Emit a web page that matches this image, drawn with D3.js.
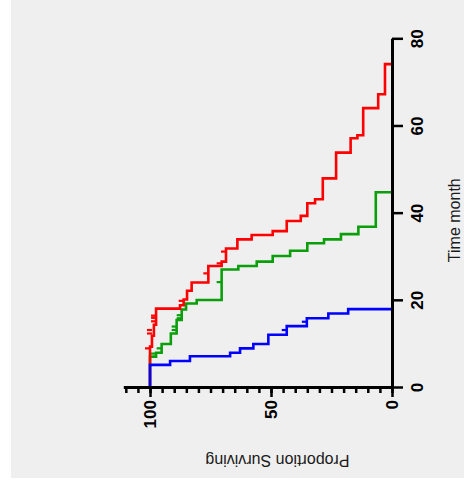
<!DOCTYPE html>
<html>

<head>
    <title>Survival curves</title>
    <script src="https://d3js.org/d3.v7.min.js"></script>
    <style>
        body {
            margin: 0;
            background: #fff;
        }

        .axis path,
        .axis line {
            stroke: #000;
        }

        .axis path {
            stroke-width: 3px;
        }

        .axis line {
            stroke-width: 2.5px;
        }

        .axis text {
            font: bold 17px "Liberation Sans", Arial, sans-serif;
            fill: #000;
        }

        .curve {
            fill: none;
            stroke-width: 2.6px;
        }

        .title {
            font: 16px "Liberation Sans", Arial, sans-serif;
            fill: #1a1a1a;
        }
    </style>
</head>

<body>
    <script>
        // tick labels
        var timeTicks = [0, 20, 40, 60, 80];
        var propTicks = [0, 50, 100];
        var propMinor = [0, 5, 10, 15, 20, 25, 30, 35, 40, 45, 50, 55, 60, 65, 70, 75, 80, 85, 90, 95, 100, 105, 110];

        // red group (time in months, percent surviving)
        var redTimes = [0, 9.5, 12.0, 14.5, 18.2, 19.0, 20.3, 22.3, 24.2, 28.0, 29.0, 32.0, 34.1, 35.1, 36.0, 38.3, 39.5, 42.4, 43.3, 48.1, 54.0, 57.3, 58.0, 64.2, 67.4, 74.3];
        var redPct = [100, 99.2, 98.4, 97.5, 87.6, 86.1, 84.7, 82.8, 75.9, 70.4, 68.6, 63.9, 58.0, 49.3, 43.5, 37.7, 35.0, 31.8, 28.6, 23.1, 17.1, 14.3, 11.9, 5.7, 2.9, 0];
        var redCensorT = [9.1, 12.5, 13.3, 15.3, 16.1, 16.6, 20.0, 26.3, 28.6, 31.3];
        var redCensorP = [100, 99.2, 99.2, 97.5, 97.5, 97.5, 86.1, 75.9, 70.4, 68.6];

        // green group
        var greenTimes = [0, 7.2, 8.1, 10.1, 12.5, 15.6, 18.0, 19.4, 20.2, 27.2, 28.0, 29.0, 30.3, 31.5, 33.2, 34.1, 35.3, 37.0, 44.9];
        var greenPct = [100, 97.5, 95.2, 91.4, 89.0, 86.9, 85.1, 80.7, 70.4, 63.5, 55.9, 49.3, 42.1, 35.0, 28.1, 21.1, 13.9, 6.7, 0];
        var greenCensorT = [7.9, 9.1, 13.3, 14.1, 16.0, 16.7, 24.3];
        var greenCensorP = [97.5, 95.2, 89.0, 89.0, 86.9, 86.9, 70.4];

        // blue group
        var blueTimes = [0, 5.3, 6.2, 7.3, 8.1, 9.1, 10.1, 12.2, 14.2, 16.0, 17.1, 18.1];
        var bluePct = [100, 91.7, 83.5, 66.9, 62.8, 57.3, 51.1, 43.5, 35.2, 26.3, 18.1, 0];
        var blueCensorT = [13.3, 15.2];
        var blueCensorP = [43.5, 35.2];

        // drawing order: green under red under blue
        var series = [
            { color: "#0a9f0a", t: greenTimes, p: greenPct, ct: greenCensorT, cp: greenCensorP },
            { color: "#ff0000", t: redTimes, p: redPct, ct: redCensorT, cp: redCensorP },
            { color: "#0000ff", t: blueTimes, p: bluePct, ct: blueCensorT, cp: blueCensorP }
        ];

        var W = 464, Hpage = 485;
        var width = 348.7,   // time axis length
            height = 268.6;  // proportion axis length

        var svg = d3.select("body").append("svg")
            .attr("width", W)
            .attr("height", Hpage);

        svg.append("rect")
            .attr("x", 11).attr("y", 0)
            .attr("width", W - 11).attr("height", 478)
            .attr("fill", "#efefef");

        // the whole plot is drawn as a normal chart, then turned a quarter turn
        var g = svg.append("g")
            .attr("transform", "translate(123.4,388) rotate(-90)");

        var x = d3.scaleLinear().domain([0, 80]).range([0, width]);
        var y = d3.scaleLinear().domain([0, 111]).range([height, 0]);

        var line = d3.line()
            .x(d => x(d[0]))
            .y(d => y(d[1]))
            .curve(d3.curveStepAfter);

        series.forEach(function (s) {
            var pts = s.t.map((t, i) => [t, s.p[i]]);
            g.append("path")
                .attr("class", "curve")
                .attr("stroke", s.color)
                .attr("d", line(pts));

            g.selectAll(null)
                .data(s.ct.map((t, i) => [t, s.cp[i]]))
                .enter()
                .append("line")
                .attr("x1", d => x(d[0]))
                .attr("x2", d => x(d[0]))
                .attr("y1", d => y(d[1]))
                .attr("y2", d => y(d[1]) - 5)
                .attr("stroke", s.color)
                .attr("stroke-width", 2.2);
        });

        // time axis
        g.append("g")
            .attr("class", "axis")
            .attr("transform", "translate(0," + height + ")")
            .call(d3.axisBottom(x).tickValues(timeTicks).tickSize(11).tickSizeOuter(0).tickPadding(8));

        // proportion axis, minor then major ticks
        g.append("g")
            .attr("class", "axis")
            .call(d3.axisLeft(y).tickValues(propMinor).tickSize(5).tickSizeOuter(0).tickFormat(""));

        g.append("g")
            .attr("class", "axis")
            .call(d3.axisLeft(y).tickValues(propTicks).tickSize(9).tickSizeOuter(0).tickPadding(3));

        g.append("text")
            .attr("class", "title")
            .attr("x", x(38.5))
            .attr("y", height + 62)
            .attr("dy", "0.35em")
            .attr("text-anchor", "middle")
            .text("Time month");

        g.append("text")
            .attr("class", "title")
            .attr("transform", "translate(-73," + (height - 114.5) + ") rotate(-90)")
            .attr("dy", "0.35em")
            .attr("text-anchor", "middle")
            .text("Proportion Surviving");
    </script>
</body>

</html>
